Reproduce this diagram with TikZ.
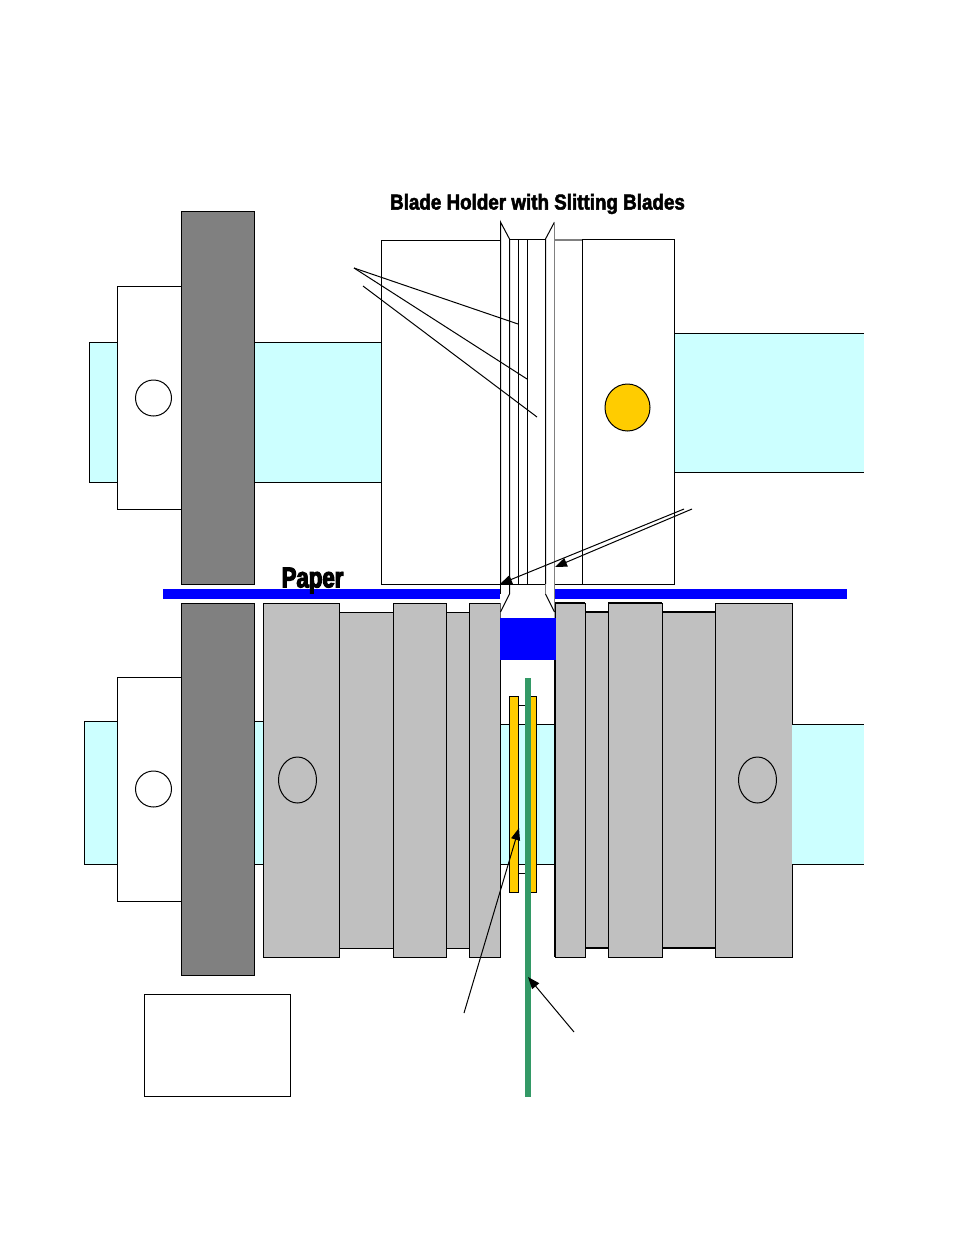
\documentclass[tikz,border=0pt]{standalone}
\usepackage{fontspec}
\newfontfamily\titlefont{Liberation Sans}[BoldFeatures={FakeBold=2.4,FakeStretch=0.875}]
\newfontfamily\paperfont{Liberation Sans}[BoldFeatures={FakeBold=4,FakeStretch=0.78}]
\usetikzlibrary{arrows.meta,shapes.geometric}
\definecolor{paleCyan}{HTML}{CCFFFF}
\definecolor{midGray}{HTML}{808080}
\definecolor{liteGray}{HTML}{C0C0C0}
\definecolor{goldFill}{HTML}{FFCC00}
\definecolor{seaGreen}{HTML}{339966}
\definecolor{pureBlue}{HTML}{0000FF}
\tikzset{
  x=1pt,y=-1pt,
  part/.style={draw=black,line width=1pt},
  cyanpart/.style={part,fill=paleCyan},
  whitepart/.style={part,fill=white},
  darkpart/.style={part,fill=midGray},
  greypart/.style={part,fill=liteGray},
  bladeedge/.style={draw=midGray,line width=1.3pt},
  leader/.style={draw=black,line width=1pt},
  pointer/.style={leader,-{Triangle[length=12pt,width=9pt]}},
  label/.style={inner sep=0pt,anchor=center}
}
\begin{document}
\begin{tikzpicture}
\useasboundingbox (0,0) rectangle (954,1235);
% upper assembly
\filldraw[cyanpart] (117,342) -- (89,342) -- (89,482) -- (117,482);
\draw[whitepart] (117,286) rectangle (181,509);
\draw[darkpart] (181,211) rectangle (254,584);
\draw[cyanpart] (254,342) rectangle (381,482);
\draw[whitepart] (381,240) rectangle (500,584);
\node[whitepart,circle,minimum size=36pt,inner sep=0pt] (upperpin) at (153.5,398) {};
\draw[bladeedge] (554,240) -- (582,240);
\draw[whitepart] (582,239) rectangle (674,584);
\draw[leader] (554.5,584) -- (582,584);
\fill[paleCyan] (674,333) rectangle (864,472);
\draw[part] (864,333) -- (674,333) -- (674,472) -- (864,472);
\node[part,fill=goldFill,ellipse,minimum width=45pt,minimum height=47pt,inner sep=0pt] (goldpin) at (627.5,407.5) {};
% paper
\fill[pureBlue] (163,589) rectangle (500,599);
\fill[pureBlue] (555,589) rectangle (847,599);
% lower assembly
\filldraw[cyanpart] (117,721) -- (84,721) -- (84,864) -- (117,864);
\draw[whitepart] (117,677) rectangle (181,901);
\draw[darkpart] (181,603) rectangle (254,975);
\node[whitepart,circle,minimum size=36pt,inner sep=0pt] (lowerpin) at (153.5,789) {};
\draw[cyanpart] (254,721) rectangle (263,864);
\draw[greypart] (339,612) rectangle (393,948);
\draw[greypart] (446,612) rectangle (469,948);
\draw[greypart] (263,603) rectangle (339,957);
\draw[greypart] (393,603) rectangle (446,957);
\draw[greypart] (469,603) rectangle (500,957);
\node[part,draw,ellipse,minimum width=38pt,minimum height=46pt,inner sep=0pt] (leftbore) at (297.5,780) {};
% centre column
\fill[paleCyan] (500,724) rectangle (555,864);
\draw[part] (500,724) -- (555,724) (500,864) -- (555,864);
\draw[part] (518,705) -- (530,705) (518,873) -- (530,873);
\draw[part,fill=goldFill] (509,696) rectangle (518,892);
\draw[part,fill=goldFill] (530,696) rectangle (536.5,892);
\fill[seaGreen] (525,678) rectangle (531,1097);
\draw[part] (500,660) -- (500,957);
\draw[line width=1.5pt] (555,660) -- (555,957);
\draw[greypart] (585,612) rectangle (608,948);
\draw[greypart] (662,612) rectangle (715,948);
\draw[line width=1.3pt] (585,612) -- (608,612) (585,948) -- (608,948) (662,612) -- (715,612) (662,948) -- (715,948);
\draw[greypart] (555,603) rectangle (585,957);
\draw[greypart] (608,603) rectangle (662,957);
\draw[line width=1.3pt] (555,603) -- (585,603) (608,603) -- (662,603) (555,603) -- (555,957);
\draw[greypart] (715,603) rectangle (792,957);
\node[part,draw,ellipse,minimum width=38pt,minimum height=46pt,inner sep=0pt] (rightbore) at (757.5,780) {};
\fill[paleCyan] (792,724) rectangle (864,864);
\draw[part] (792,724) -- (864,724) (792,864) -- (864,864);
% blade holder
\fill[white] (500,222) -- (509.5,239) -- (545.5,239) -- (554.5,222) -- (554.5,612) -- (554.5,618) -- (500.5,618) -- (500.5,222) -- cycle;
\draw[part] (500.5,584) -- (500.5,222) -- (509.5,239) -- (509.5,584);
\draw[part] (509.5,239) -- (545.5,239);
\draw[part] (518,239) -- (518,584);
\draw[part] (527,239) -- (527,584);
\draw[part] (500.5,584) -- (545.5,584);
\draw[part] (545.5,584) -- (545.5,239) -- (554.5,222);
\draw[bladeedge] (554.5,222) -- (554.5,584);
\draw[part] (500.5,584) -- (500.5,594);
\draw[part] (509.5,584) -- (509.5,594) -- (500.5,612);
\draw[bladeedge] (554.5,584) -- (554.5,612);
\draw[bladeedge] (545.5,584) -- (545.5,594);
\draw[part] (545.5,594) -- (554.5,612);
\fill[pureBlue] (500,618) rectangle (555.5,660);
% small box
\draw[whitepart] (144,994) rectangle (290,1096);
% connectors
\coordinate (fanA) at (354,268);
\coordinate (fanB) at (363,286);
\coordinate (fanC) at (518,324);
\coordinate (fanD) at (527,379);
\coordinate (fanE) at (537,417);
\draw[leader] (fanA) -- (fanC);
\draw[leader] (fanA) -- (fanD);
\draw[leader] (fanB) -- (fanE);
\coordinate (sA) at (684,509);
\coordinate (tA) at (500,584);
\coordinate (sB) at (692,509);
\coordinate (tB) at (555,567);
\draw[pointer] (sA) -- (tA);
\draw[pointer] (sB) -- (tB);
\coordinate (sC) at (464,1013);
\coordinate (tC) at (519,828);
\coordinate (sD) at (574,1032);
\coordinate (tD) at (528,977);
\draw[pointer] (sC) -- (tC);
\draw[pointer] (sD) -- (tD);
% labels
\node[label] (title) at (537.5,204) {\titlefont\bfseries\fontsize{21.5}{24}\selectfont Blade Holder with Slitting Blades};
\node[label] (paper) at (312.5,580.5) {\paperfont\bfseries\fontsize{28.5}{30}\selectfont Paper};
\end{tikzpicture}
\end{document}
